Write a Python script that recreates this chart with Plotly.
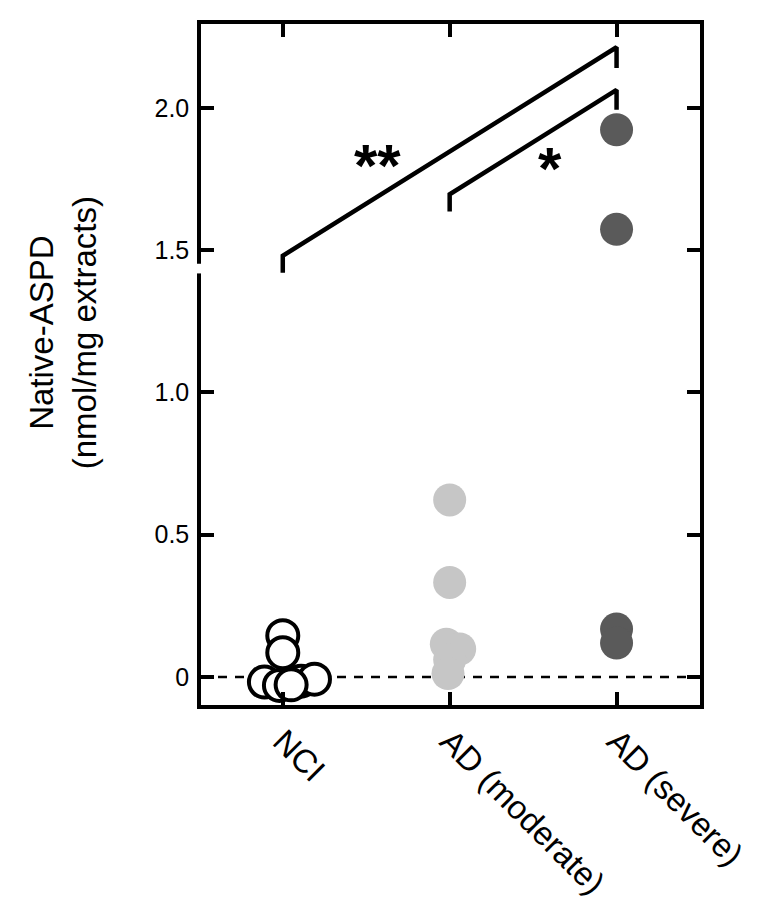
import plotly.graph_objects as go

# ---- data ----
categories = ["NCI", "AD (moderate)", "AD (severe)"]
nci_x = [0.0, 0.0, -0.11, 0.11, 0.19, -0.02, 0.05]
nci_y = [0.145, 0.085, -0.018, -0.015, -0.008, -0.03, -0.028]
mod_x = [1.0, 1.0, 0.98, 1.06, 1.0, 0.99]
mod_y = [0.622, 0.332, 0.115, 0.098, 0.060, 0.012]
sev_x = [2.0, 2.0, 2.0, 2.0]
sev_y = [1.923, 1.573, 0.168, 0.119]
y_tick_vals = [0, 0.5, 1.0, 1.5, 2.0]
y_tick_text = ["0", "0.5", "1.0", "1.5", "2.0"]
# significance brackets
bracket_long = dict(x=[0, 0, 2, 2], y=[1.42, 1.48, 2.213, 2.14], label="**", lx=0.57, ly=1.81)
bracket_short = dict(x=[1, 1, 2, 2], y=[1.636, 1.696, 2.063, 1.993], label="*", lx=1.60, ly=1.80)

FONT = "Liberation Sans, Arial, sans-serif"

fig = go.Figure()

for br in (bracket_long, bracket_short):
    fig.add_trace(go.Scatter(x=br["x"], y=br["y"], mode="lines",
                             line=dict(color="black", width=4.5),
                             hoverinfo="skip", showlegend=False))
    fig.add_annotation(x=br["lx"], y=br["ly"], text="<b>" + br["label"] + "</b>", showarrow=False,
                       font=dict(family=FONT, size=60, color="black"),
                       yshift=-4)

fig.add_trace(go.Scatter(x=sev_x, y=sev_y, mode="markers",
                         marker=dict(size=33, color="#5a5a5a", line=dict(width=0)),
                         showlegend=False))
fig.add_trace(go.Scatter(x=mod_x, y=mod_y, mode="markers",
                         marker=dict(size=33, color="#c6c6c6", line=dict(width=0)),
                         showlegend=False))
fig.add_trace(go.Scatter(x=nci_x, y=nci_y, mode="markers",
                         marker=dict(size=31, color="white", line=dict(width=4, color="black")),
                         showlegend=False))

# dashed zero line
fig.add_shape(type="line", xref="paper", yref="y", x0=0, x1=1, y0=0, y1=0,
              line=dict(color="black", width=2.5, dash="9px,8px"), layer="below")
# axis break on left axis
fig.add_shape(type="rect", xref="paper", yref="y", x0=-0.02, x1=0.01, y0=1.418, y1=1.452,
              fillcolor="white", line=dict(width=0), layer="above")

fig.update_xaxes(range=[-0.49, 2.5], tickmode="array", tickvals=[0, 1, 2], ticktext=categories,
                 tickangle=45, ticks="inside", ticklen=13, tickwidth=3.5, tickcolor="black",
                 showline=True, linewidth=3.5, linecolor="black", mirror="ticks",
                 showgrid=False, zeroline=False,
                 tickfont=dict(family=FONT, size=33, color="black"))
fig.update_yaxes(range=[-0.0988, 2.2946], tickmode="array", tickvals=y_tick_vals, ticktext=y_tick_text,
                 ticks="inside", ticklen=13, tickwidth=3.5, tickcolor="black",
                 showline=True, linewidth=3.5, linecolor="black", mirror="ticks",
                 showgrid=False, zeroline=False, ticklabelstandoff=3,
                 tickfont=dict(family=FONT, size=25, color="black"))

fig.add_annotation(xref="paper", yref="paper", x=-0.275, y=0.547, xanchor="center", yanchor="middle",
                   text="Native-ASPD<br>(nmol/mg extracts)", textangle=-90, showarrow=False,
                   font=dict(family=FONT, size=33, color="black"))

fig.update_layout(width=766, height=905, margin=dict(l=193, r=74, t=14, b=207),
                  plot_bgcolor="white", paper_bgcolor="white")

fig.write_html("out.html")
